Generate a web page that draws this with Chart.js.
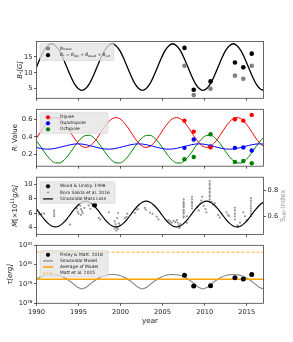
<!DOCTYPE html>
<html>
<head>
<meta charset="utf-8">
<script src="https://cdn.jsdelivr.net/npm/chart.js@4.4.1/dist/chart.umd.min.js"></script>
<style>
body { margin: 0; background: #fff; }
#wrap { position: relative; width: 293px; height: 342px; overflow: hidden; }
canvas { position: absolute; left: 0; }
</style>
</head>
<body>
<div id="wrap">
<canvas id="c1" width="293" height="72" style="top:32px"></canvas>
<canvas id="c2" width="293" height="72" style="top:100px"></canvas>
<canvas id="c3" width="293" height="72" style="top:168px"></canvas>
<canvas id="c4" width="293" height="106" style="top:236px"></canvas>
</div>
<script>
// model curves, every 0.45 yr
var modelYears = [1990, 1990.45, 1990.9, 1991.35, 1991.8, 1992.25, 1992.7, 1993.15, 1993.6, 1994.05,
	1994.5, 1994.95, 1995.4, 1995.85, 1996.3, 1996.75, 1997.2, 1997.65, 1998.1, 1998.55,
	1999, 1999.45, 1999.9, 2000.35, 2000.8, 2001.25, 2001.7, 2002.15, 2002.6, 2003.05,
	2003.5, 2003.95, 2004.4, 2004.85, 2005.3, 2005.75, 2006.2, 2006.65, 2007.1, 2007.55,
	2008, 2008.45, 2008.9, 2009.35, 2009.8, 2010.25, 2010.7, 2011.15, 2011.6, 2012.05,
	2012.5, 2012.95, 2013.4, 2013.85, 2014.3, 2014.75, 2015.2, 2015.65, 2016.1, 2016.55, 2017];
var bModel = [11.8, 14.6, 17.0, 18.5, 19.1, 18.5, 17.0, 14.6, 11.8, 9.0, 6.6, 5.1, 4.5, 5.1, 6.6, 9.0,
	11.8, 14.6, 17.0, 18.5, 19.1, 18.5, 17.0, 14.6, 11.8, 9.0, 6.6, 5.1, 4.5, 5.1, 6.6, 9.0,
	11.8, 14.6, 17.0, 18.5, 19.1, 18.5, 17.0, 14.6, 11.8, 9.0, 6.6, 5.1, 4.5, 5.1, 6.6, 9.0,
	11.8, 14.6, 17.0, 18.5, 19.1, 18.5, 17.0, 14.6, 11.8, 9.0, 6.6, 5.1, 4.5];
var dipModel = [0.385, 0.45, 0.515, 0.57, 0.607, 0.62, 0.607, 0.57, 0.515, 0.45, 0.385, 0.33, 0.293, 0.28, 0.293, 0.33,
	0.385, 0.45, 0.515, 0.57, 0.607, 0.62, 0.607, 0.57, 0.515, 0.45, 0.385, 0.33, 0.293, 0.28, 0.293, 0.33,
	0.385, 0.45, 0.515, 0.57, 0.607, 0.62, 0.607, 0.57, 0.515, 0.45, 0.385, 0.33, 0.293, 0.28, 0.293, 0.33,
	0.385, 0.45, 0.515, 0.57, 0.607, 0.62, 0.607, 0.57, 0.515, 0.45, 0.385, 0.33, 0.293];
var quadModel = [0.279, 0.269, 0.262, 0.26, 0.262, 0.269, 0.279, 0.29, 0.301, 0.311, 0.318, 0.32, 0.318, 0.311, 0.301, 0.29,
	0.279, 0.269, 0.262, 0.26, 0.262, 0.269, 0.279, 0.29, 0.301, 0.311, 0.318, 0.32, 0.318, 0.311, 0.301, 0.29,
	0.279, 0.269, 0.262, 0.26, 0.262, 0.269, 0.279, 0.29, 0.301, 0.311, 0.318, 0.32, 0.318, 0.311, 0.301, 0.29,
	0.279, 0.269, 0.262, 0.26, 0.262, 0.269, 0.279, 0.29, 0.301, 0.311, 0.318, 0.32, 0.318];
var octModel = [0.352, 0.295, 0.232, 0.174, 0.129, 0.104, 0.102, 0.125, 0.168, 0.225, 0.288, 0.346, 0.391, 0.416, 0.418, 0.395,
	0.352, 0.295, 0.232, 0.174, 0.129, 0.104, 0.102, 0.125, 0.168, 0.225, 0.288, 0.346, 0.391, 0.416, 0.418, 0.395,
	0.352, 0.295, 0.232, 0.174, 0.129, 0.104, 0.102, 0.125, 0.168, 0.225, 0.288, 0.346, 0.391, 0.416, 0.418, 0.395,
	0.352, 0.295, 0.232, 0.174, 0.129, 0.104, 0.102, 0.125, 0.168, 0.225, 0.288, 0.346, 0.391];
var massModel = [6.54, 5.85, 5.16, 4.58, 4.19, 4.05, 4.19, 4.58, 5.16, 5.85, 6.54, 7.12, 7.51, 7.65, 7.51, 7.12,
	6.54, 5.85, 5.16, 4.58, 4.19, 4.05, 4.19, 4.58, 5.16, 5.85, 6.54, 7.12, 7.51, 7.65, 7.51, 7.12,
	6.54, 5.85, 5.16, 4.58, 4.19, 4.05, 4.19, 4.58, 5.16, 5.85, 6.54, 7.12, 7.51, 7.65, 7.51, 7.12,
	6.54, 5.85, 5.16, 4.58, 4.19, 4.05, 4.19, 4.58, 5.16, 5.85, 6.54, 7.12, 7.51];
var torqueModel = [1.82e29, 2.31e29, 2.72e29, 2.99e29, 3.09e29, 2.99e29, 2.72e29, 2.31e29, 1.82e29, 1.33e29, 9.2e28, 6.5e28, 5.5e28, 6.5e28, 9.2e28, 1.33e29,
	1.82e29, 2.31e29, 2.72e29, 2.99e29, 3.09e29, 2.99e29, 2.72e29, 2.31e29, 1.82e29, 1.33e29, 9.2e28, 6.5e28, 5.5e28, 6.5e28, 9.2e28, 1.33e29,
	1.82e29, 2.31e29, 2.72e29, 2.99e29, 3.09e29, 2.99e29, 2.72e29, 2.31e29, 1.82e29, 1.33e29, 9.2e28, 6.5e28, 5.5e28, 6.5e28, 9.2e28, 1.33e29,
	1.82e29, 2.31e29, 2.72e29, 2.99e29, 3.09e29, 2.99e29, 2.72e29, 2.31e29, 1.82e29, 1.33e29, 9.2e28, 6.5e28, 5.5e28];

// observations
var obsYears = [2007.6, 2008.7, 2010.7, 2013.6, 2014.6, 2015.6];
var bMean = [12.2, 3.0, 5.0, 9.1, 8.1, 12.2];
var bTotal = [17.8, 4.7, 7.3, 13.2, 11.7, 16.0];
var dipObs = [0.585, 0.46, 0.28, 0.60, 0.585, 0.65];
var quadObs = [0.275, 0.37, 0.29, 0.275, 0.28, 0.245];
var octObs = [0.146, 0.17, 0.43, 0.115, 0.125, 0.10];
var torqueObs = [2.8e29, 7.9e28, 8.2e28, 2.1e29, 1.8e29, 3.1e29];
var woodYears = [1996.9];
var woodMdot = [7.1];
var avgTorque = 1.75e29;
var mattTorque = 4.4e30;

var shkYears = [1990.3, 1990.6, 1990.9, 1992.1, 1992.1, 1992.1, 1992.1, 1994.0, 1994.8, 1994.9,
	1995.0, 1995.2, 1995.3, 1995.4, 1995.5, 1995.3, 1995.7, 1996.2, 1996.4, 1997.4,
	1997.6, 1998.6, 1999.3, 1999.4, 1999.5, 1999.6, 1999.7, 1999.5, 1999.8, 1999.9,
	1999.3, 1999.6, 1999.7, 2000.5, 2000.7, 2000.8, 2001.7, 2001.9, 2002.1, 2002.9,
	2003.0, 2003.5, 2003.8, 2004.3, 2004.5, 2005.7, 2005.9, 2006.1, 2006.3, 2006.5,
	2006.7, 2006.8, 2006.9, 2007.0, 2007.1, 2007.5, 2007.5, 2007.5, 2007.5, 2007.5,
	2007.5, 2007.5, 2007.5, 2007.5, 2007.5, 2007.5, 2007.5, 2007.9, 2007.9, 2008.5,
	2008.5, 2008.5, 2008.5, 2008.5, 2008.5, 2009.1, 2009.3, 2009.5, 2009.6, 2009.7,
	2009.9, 2010.1, 2010.2, 2010.6, 2010.6, 2010.6, 2010.6, 2010.6, 2010.6, 2010.6,
	2010.6, 2010.6, 2010.6, 2010.6, 2010.8, 2011.0, 2011.2, 2011.6, 2011.8, 2012.6,
	2012.8, 2012.9, 2013.6, 2013.6, 2013.6, 2013.6, 2013.6, 2013.9, 2014.0, 2014.2,
	2014.6, 2014.8, 2015.0, 2015.5, 2015.5, 2015.5, 2015.5, 2015.5, 2015.5, 2015.5, 2015.5];
var shkValues = [0.615, 0.62, 0.62, 0.60, 0.613, 0.63, 0.646, 0.536, 0.66, 0.635,
	0.62, 0.68, 0.655, 0.64, 0.625, 0.61, 0.665, 0.683, 0.657, 0.588,
	0.575, 0.63, 0.56, 0.54, 0.52, 0.51, 0.50, 0.49, 0.545, 0.53,
	0.505, 0.585, 0.625, 0.585, 0.595, 0.62, 0.626, 0.65, 0.655, 0.665,
	0.65, 0.628, 0.618, 0.597, 0.576, 0.57, 0.56, 0.55, 0.565, 0.555,
	0.57, 0.55, 0.53, 0.51, 0.54, 0.73, 0.71, 0.70, 0.69, 0.68,
	0.67, 0.65, 0.64, 0.63, 0.62, 0.60, 0.59, 0.60, 0.55, 0.75,
	0.73, 0.71, 0.70, 0.68, 0.66, 0.67, 0.645, 0.70, 0.72, 0.75,
	0.68, 0.655, 0.63, 0.87, 0.85, 0.84, 0.82, 0.81, 0.79, 0.78,
	0.76, 0.75, 0.73, 0.71, 0.71, 0.69, 0.70, 0.61, 0.59, 0.63,
	0.61, 0.60, 0.665, 0.645, 0.62, 0.60, 0.575, 0.53, 0.52, 0.55,
	0.63, 0.60, 0.57, 0.74, 0.72, 0.70, 0.68, 0.66, 0.64, 0.62, 0.60];

var yearTicks = [1990, 1995, 2000, 2005, 2010, 2015];
var bTicks = [5, 10, 15];
var rTicks = [0.2, 0.4, 0.6];
var mdotTicks = [4, 6, 8, 10];
var shkTicks = [0.6, 0.8];
var torqueTicks = [1e28, 1e29, 1e30, 1e31];

Chart.defaults.font.family = '"DejaVu Sans"';
var FONT = '"DejaVu Sans"';
var TICKFONT = { size: 6.7 };

function pts(xs, ys) {
	return xs.map(function (x, i) { return { x: x, y: ys[i] }; });
}

// text with italic / sub / sup pieces
function rich(ctx, segs, x, y, size, color, measureOnly) {
	var cx = x;
	for (var i = 0; i < segs.length; i++) {
		var t = segs[i][0], m = segs[i][1] || '';
		var s = size, dy = 0, st = '';
		if (m == 'sub' || m == 'isub') { s = size * 0.7; dy = size * 0.25; }
		if (m == 'sup') { s = size * 0.7; dy = -size * 0.38; }
		if (m == 'i' || m == 'isub') st = 'italic ';
		ctx.font = st + s + 'px ' + FONT;
		if (!measureOnly) {
			ctx.fillStyle = color;
			ctx.fillText(t, cx, y + dy);
		}
		cx += ctx.measureText(t).width;
	}
	return cx - x;
}

function vTitle(ctx, segs, x, y, size, color) {
	ctx.save();
	ctx.translate(x, y);
	ctx.rotate(-Math.PI / 2);
	ctx.textBaseline = 'middle';
	ctx.textAlign = 'left';
	var w = rich(ctx, segs, 0, 0, size, color, true);
	rich(ctx, segs, -w / 2, 0, size, color, false);
	ctx.restore();
}

function drawLegend(ctx, a, lg) {
	var x0 = a.left + lg.dx, y0 = a.top + lg.dy;
	ctx.save();
	ctx.fillStyle = 'rgba(229,229,229,0.8)';
	ctx.strokeStyle = 'rgba(205,205,205,0.9)';
	ctx.lineWidth = 0.6;
	ctx.beginPath();
	if (ctx.roundRect) ctx.roundRect(x0, y0, lg.w, lg.h, 1.5); else ctx.rect(x0, y0, lg.w, lg.h);
	ctx.fill();
	ctx.stroke();
	ctx.textBaseline = 'middle';
	ctx.textAlign = 'left';
	for (var i = 0; i < lg.rows.length; i++) {
		var r = lg.rows[i];
		var my = y0 + lg.first + i * lg.step, mx = x0 + 8;
		ctx.setLineDash([]);
		if (r.kind == 'dot') {
			ctx.fillStyle = r.color;
			ctx.beginPath();
			ctx.arc(mx, my, 2.1, 0, Math.PI * 2);
			ctx.fill();
		} else if (r.kind == 'plus') {
			ctx.strokeStyle = r.color;
			ctx.lineWidth = 0.7;
			ctx.beginPath();
			ctx.moveTo(mx - 1.2, my); ctx.lineTo(mx + 1.2, my);
			ctx.moveTo(mx, my - 1.2); ctx.lineTo(mx, my + 1.2);
			ctx.stroke();
		} else {
			ctx.strokeStyle = r.color;
			ctx.lineWidth = r.width;
			if (r.dash) ctx.setLineDash(r.dash);
			ctx.beginPath();
			ctx.moveTo(mx - 5, my); ctx.lineTo(mx + 5, my);
			ctx.stroke();
		}
		rich(ctx, r.label, x0 + 20, my, lg.size, '#222', false);
	}
	ctx.restore();
}

function deco(cfg) {
	return {
		id: 'deco',
		afterDatasetsDraw: function (chart) {
			var ctx = chart.ctx, a = chart.chartArea;
			ctx.save();
			ctx.strokeStyle = '#444';
			ctx.lineWidth = 0.8;
			ctx.strokeRect(a.left, a.top, a.right - a.left, a.bottom - a.top);
			ctx.restore();
			if (cfg.legend) drawLegend(ctx, a, cfg.legend);
		},
		afterDraw: function (chart) {
			var ctx = chart.ctx, a = chart.chartArea, cy = (a.top + a.bottom) / 2;
			if (cfg.yTitle) vTitle(ctx, cfg.yTitle, cfg.yTitleX, cy, 6.9, '#222');
			if (cfg.y2Title) vTitle(ctx, cfg.y2Title, cfg.y2TitleX, cy, 6.9, '#999');
			if (cfg.xTitle) {
				ctx.save();
				ctx.textBaseline = 'middle';
				ctx.textAlign = 'left';
				var w = rich(ctx, cfg.xTitle, 0, 0, 7.2, '#222', true);
				rich(ctx, cfg.xTitle, (a.left + a.right) / 2 - w / 2, a.bottom + 17.7, 7.2, '#222', false);
				ctx.restore();
			}
		}
	};
}

function xScale(showLabels, height) {
	return {
		type: 'linear', min: 1990, max: 2017,
		afterBuildTicks: function (s) { s.ticks = yearTicks.map(function (v) { return { value: v }; }); },
		afterFit: function (s) { s.height = height; },
		grid: { drawOnChartArea: false, tickLength: 2.5, color: '#333', lineWidth: 0.8 },
		border: { display: false },
		ticks: { display: showLabels, font: TICKFONT, color: '#222', padding: 2, maxRotation: 0, minRotation: 0, autoSkip: false,
			callback: function (v) { return String(v); } }
	};
}

function yScale(type, pos, min, max, tickVals, fmt, width) {
	return {
		type: type, position: pos, min: min, max: max,
		afterBuildTicks: function (s) { s.ticks = tickVals.map(function (v) { return { value: v }; }); },
		afterFit: function (s) { s.width = width; },
		grid: { drawOnChartArea: false, tickLength: 2.5, color: '#333', lineWidth: 0.8 },
		border: { display: false },
		ticks: { font: TICKFONT, color: '#222', padding: 1.5, autoSkip: false, callback: fmt }
	};
}

function baseOptions(padTop, padRight, scales) {
	return {
		responsive: false,
		animation: false,
		devicePixelRatio: 1,
		layout: { padding: { top: padTop, right: padRight, left: 0, bottom: 0 } },
		plugins: { legend: { display: false }, tooltip: { enabled: false } },
		scales: scales
	};
}

function pointSet(xs, ys, color, r, axis) {
	return { data: pts(xs, ys), showLine: false, pointRadius: r, pointBackgroundColor: color,
		pointBorderWidth: 0, pointBorderColor: color, yAxisID: axis || 'y' };
}
function lineSet(xs, ys, color, w, dash) {
	return { data: pts(xs, ys), showLine: true, borderColor: color, borderWidth: w, borderDash: dash || [],
		pointRadius: 0, cubicInterpolationMode: 'monotone', fill: false };
}

var supDigits = { '28': '²⁸', '29': '²⁹', '30': '³⁰', '31': '³¹' };

// panel 1: field strength
new Chart(document.getElementById('c1'), {
	type: 'scatter',
	data: { datasets: [
		pointSet(obsYears, bMean, '#808080', 2.3),
		pointSet(obsYears, bTotal, '#000000', 2.3),
		lineSet(modelYears, bModel, '#000000', 1.3)
	] },
	options: baseOptions(9.5, 29.5, {
		x: xScale(false, 5.7),
		y: yScale('linear', 'left', 2.0, 19.8, bTicks, function (v) { return String(v); }, 36.5)
	}),
	plugins: [deco({
		yTitle: [['B', 'i'], ['*', 'sub'], ['[G]', 'i']], yTitleX: 20.5,
		legend: { dx: 3.5, dy: 2, w: 74, h: 17, first: 5, step: 6.7, size: 4.4, rows: [
			{ kind: 'dot', color: '#808080', label: [['B', 'i'], ['mean', 'isub']] },
			{ kind: 'dot', color: '#000000', label: [['B', 'i'], ['*', 'sub'], [' = ', ''], ['B', 'i'], ['dip', 'isub'], [' + ', ''], ['B', 'i'], ['quad', 'isub'], [' + ', ''], ['B', 'i'], ['oct', 'isub']] }
		] }
	})]
});

// panel 2: field fractions
new Chart(document.getElementById('c2'), {
	type: 'scatter',
	data: { datasets: [
		pointSet(obsYears, dipObs, '#ff0000', 2.2),
		pointSet(obsYears, quadObs, '#0000ff', 2.2),
		pointSet(obsYears, octObs, '#008000', 2.2),
		lineSet(modelYears, quadModel, '#0000ff', 1.0),
		lineSet(modelYears, dipModel, '#ff0000', 1.0),
		lineSet(modelYears, octModel, '#008000', 1.0)
	] },
	options: baseOptions(9.3, 29.5, {
		x: xScale(false, 5.8),
		y: yScale('linear', 'left', 0.066, 0.714, rTicks, function (v) { return v.toFixed(1); }, 36.5)
	}),
	plugins: [deco({
		yTitle: [['R', 'i'], ['l', 'isub'], [' Value', '']], yTitleX: 15,
		legend: { dx: 3.5, dy: 3.4, w: 68, h: 20.6, first: 4.6, step: 6, size: 4.4, rows: [
			{ kind: 'dot', color: '#ff0000', label: [['Dipole', '']] },
			{ kind: 'dot', color: '#0000ff', label: [['Quadrupole', '']] },
			{ kind: 'dot', color: '#008000', label: [['Octupole', '']] }
		] }
	})]
});

// panel 3: mass loss rate and activity index
new Chart(document.getElementById('c3'), {
	type: 'scatter',
	data: { datasets: [
		pointSet(woodYears, woodMdot, '#000000', 2.5),
		lineSet(modelYears, massModel, '#000000', 1.2),
		pointSet(shkYears, shkValues, '#999999', 1.1, 'y2')
	] },
	options: baseOptions(9.2, 0, {
		x: xScale(false, 5),
		y: yScale('linear', 'left', 3, 11, mdotTicks, function (v) { return String(v); }, 36.5),
		y2: yScale('linear', 'right', 0.46, 0.9, shkTicks, function (v) { return v.toFixed(1); }, 29.5)
	}),
	plugins: [deco({
		yTitle: [['Ṁ', 'i'], ['[×10', ''], ['11', 'sup'], ['g/s]', 'i']], yTitleX: 15.5,
		y2Title: [['S', ''], ['HK', 'sub'], ['-index', '']], y2TitleX: 283.5,
		legend: { dx: 3.5, dy: 4.5, w: 75, h: 21.6, first: 4.6, step: 6.3, size: 4.4, rows: [
			{ kind: 'dot', color: '#000000', label: [['Wood & Linsky. 1998', '']] },
			{ kind: 'plus', color: '#888888', label: [['Boro Saikia et al. 2016', '']] },
			{ kind: 'line', color: '#000000', width: 1.2, label: [['Sinusoidal Mass Loss', '']] }
		] }
	})]
});

// panel 4: torque
new Chart(document.getElementById('c4'), {
	type: 'scatter',
	data: { datasets: [
		pointSet(obsYears, torqueObs, '#000000', 2.5),
		lineSet([1990, 2017], [mattTorque, mattTorque], '#ffa500', 0.9, [3, 2]),
		lineSet([1990, 2017], [avgTorque, avgTorque], '#ffa500', 1.3),
		lineSet(modelYears, torqueModel, '#808080', 1.1)
	] },
	options: baseOptions(9.3, 29.5, {
		x: xScale(true, 38.7),
		y: yScale('logarithmic', 'left', 1e28, 1e31, torqueTicks, function (v) {
			return '10' + supDigits[String(Math.round(Math.log10(v)))];
		}, 36.5)
	}),
	plugins: [deco({
		yTitle: [['τ', 'i'], ['[erg]', 'i']], yTitleX: 10,
		xTitle: [['year', '']],
		legend: { dx: 3.5, dy: 5.2, w: 68, h: 26.6, first: 4.3, step: 6.1, size: 4.4, rows: [
			{ kind: 'dot', color: '#000000', label: [['Finley & Matt. 2018', '']] },
			{ kind: 'line', color: '#808080', width: 1.1, label: [['Sinusoidal Model', '']] },
			{ kind: 'line', color: '#ffa500', width: 1.6, label: [['Average of Model', '']] },
			{ kind: 'line', color: '#ffa500', width: 0.9, dash: [2, 1.5], label: [['Matt et al. 2015', '']] }
		] }
	})]
});
</script>
</body>
</html>
